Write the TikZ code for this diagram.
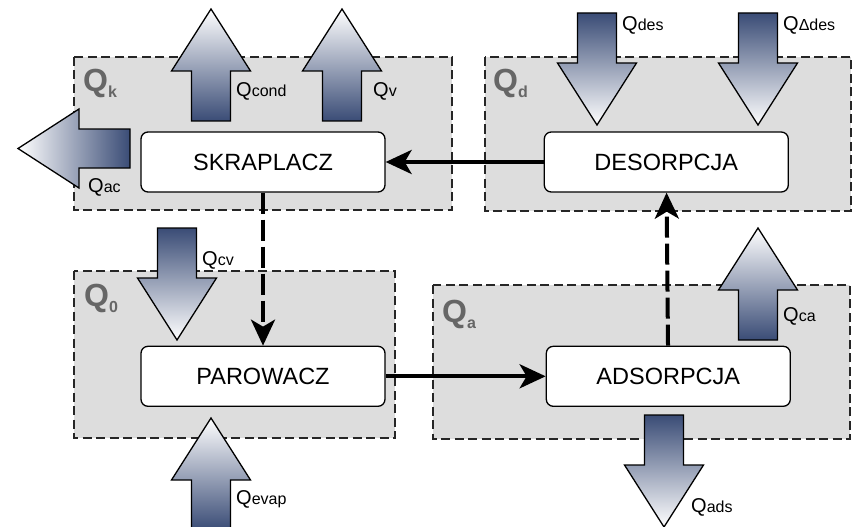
\documentclass[tikz,border=0pt]{standalone}
\usepackage{fontspec}
\setmainfont{Liberation Sans}
\usetikzlibrary{arrows.meta,positioning}
\usepackage{xcolor}

\definecolor{zonegray}{RGB}{221,221,221}
\definecolor{fluxblue}{RGB}{58,76,118}
\definecolor{labgray}{RGB}{102,102,102}
\newcommand{\qflux}[1]{Q{\fontsize{16}{18}\selectfont #1}}
\newcommand{\qzone}[1]{\textbf{Q}\raisebox{-6pt}{\fontsize{16}{18}\selectfont\bfseries #1}}

\begin{document}
\begin{tikzpicture}[x=1pt, y=-1pt,
        zone/.style={draw=black!85, fill=zonegray, line width=1.6pt, dash pattern=on 9pt off 4.5pt},
        proc/.style={draw, rounded corners=7pt, fill=white, line width=1.3pt,
                     minimum width=244pt, minimum height=60pt, font=\fontsize{23.5}{27}\selectfont},
        fatup/.style={draw, line width=1.3pt, top color=white, bottom color=fluxblue,
                      middle color=fluxblue!50!white},
        fatdown/.style={draw, line width=1.3pt, top color=fluxblue, bottom color=white,
                        middle color=fluxblue!50!white},
        fatleft/.style={draw, line width=1.3pt, left color=white, right color=fluxblue,
                        middle color=fluxblue!50!white},
        flow/.style={line width=4pt, -{Stealth[length=26pt, width=24pt, inset=7pt]}},
        dflow/.style={flow, dash pattern=on 21pt off 6pt},
        lab/.style={anchor=base west, inner sep=0pt, font=\fontsize{20}{24}\selectfont},
        zlab/.style={anchor=base west, inner sep=0pt, text=labgray, font=\fontsize{32}{36}\selectfont}
    ]
        \useasboundingbox (0,0) rectangle (855,527);

        % obszary bilansowe
        \draw[zone] (74,57) rectangle (452,210);
        \draw[zone] (485,57) rectangle (851,211);
        \draw[zone] (74,271) rectangle (395,438);
        \draw[zone] (433,285) rectangle (850,439);

        % strumienie ciepla
        \foreach \x/\y in {211/121, 342/121, 211/530, 758/340}
            \draw[fatup] ({\x-19.5},\y) -- ++(0,-50) -- ++(-20,0) -- ++(39.5,-62)
                -- ++(39.5,62) -- ++(-20,0) -- ++(0,50) -- cycle;
        \foreach \x/\y in {597/13, 758/13, 177/228, 664/415}
            \draw[fatdown] ({\x-19.5},\y) -- ++(0,50) -- ++(-20,0) -- ++(39.5,62)
                -- ++(39.5,-62) -- ++(-20,0) -- ++(0,-50) -- cycle;
        \draw[fatleft] (130,129) -- ++(-51,0) -- ++(0,-20) -- ++(-61,39.5)
            -- ++(61,39.5) -- ++(0,-20) -- ++(51,0) -- cycle;

        \node[proc] (skr) at (263,162) {SKRAPLACZ};
        \node[proc, right=158pt of skr] (des) {DESORPCJA};
        \node[proc, below=153pt of skr] (par) {PAROWACZ};
        \node[proc, right=160pt of par] (ads) {ADSORPCJA};

        \draw[flow] (des) -- (skr);
        \draw[dflow] (skr) -- (par);
        \draw[flow] (par) -- (ads);
        \draw[dflow] (ads) -- (des);

        \node[zlab] (zk) at (83,92) {\qzone{k}};
        \node[zlab] (zd) at (493,92) {\qzone{d}};
        \node[zlab] (z0) at (84,306) {\qzone{0}};
        \node[zlab] (za) at (442,322) {\qzone{a}};

        \node[lab] (lcond) at (236,97) {\qflux{cond}};
        \node[lab] (lv) at (373,97) {\qflux{v}};
        \node[lab] (lac) at (88,192) {\qflux{ac}};
        \node[lab] (ldes) at (622,31) {\qflux{des}};
        \node[lab] (lddes) at (783,31) {\qflux{Δdes}};
        \node[lab] (lcv) at (202,265) {\qflux{cv}};
        \node[lab] (levap) at (236,504) {\qflux{evap}};
        \node[lab] (lca) at (783,321) {\qflux{ca}};
        \node[lab] (lads) at (691,512) {\qflux{ads}};
    \end{tikzpicture}
\end{document}
